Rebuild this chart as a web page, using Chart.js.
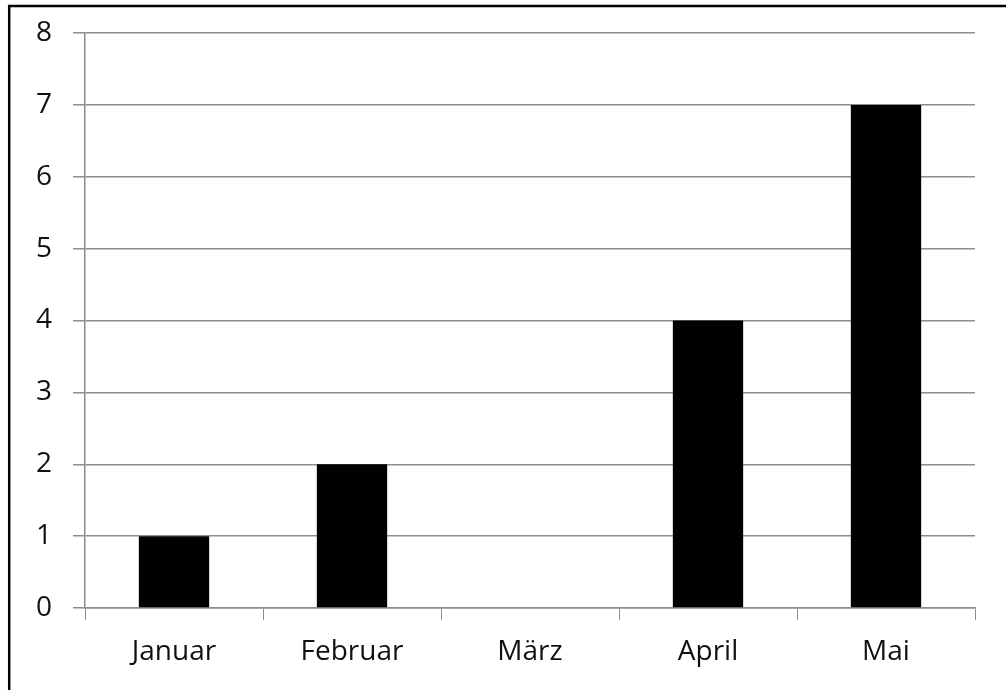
<!DOCTYPE html>
<html>
<head>
<meta charset="utf-8">
<script src="https://cdn.jsdelivr.net/npm/chart.js@4/dist/chart.umd.min.js"></script>
<style>
  body { margin: 0; background: #fff; }
  #wrap { width: 1006px; height: 690px; }
</style>
</head>
<body>
<div id="wrap"><canvas id="myChart" width="1006" height="690"></canvas></div>
<script>
// data
const months = ['Januar', 'Februar', 'März', 'April', 'Mai'];
const counts = [1, 2, 0, 4, 7];
const yTicks = [0, 1, 2, 3, 4, 5, 6, 7, 8];

// frame round the picture (left and top edge only, rest is cut off)
const framePlugin = {
    id: 'frame',
    afterDraw(chart) {
        const ctx = chart.ctx;
        ctx.save();
        ctx.strokeStyle = '#000';
        ctx.lineWidth = 2.5;
        ctx.beginPath();
        ctx.moveTo(9.2, 700);
        ctx.lineTo(9.2, 6);
        ctx.lineTo(1010, 6);
        ctx.stroke();
        ctx.restore();
    }
};

const gridGray = '#8c8c8c';

const data = {
    labels: months,
    datasets: [{
        data: counts,
        backgroundColor: '#000',
        borderWidth: 0,
        barPercentage: 0.79,
        categoryPercentage: 0.5
    }]
};

const config = {
    type: 'bar',
    data: data,
    plugins: [framePlugin],
    options: {
        responsive: false,
        animation: false,
        layout: { padding: { top: 33, right: 31, left: 0, bottom: 0 } },
        plugins: { legend: { display: false }, tooltip: { enabled: false } },
        scales: {
            x: {
                offset: true,
                grid: {
                    offset: true,
                    drawOnChartArea: false,
                    color: gridGray,
                    tickLength: 12
                },
                border: { display: true, color: gridGray, width: 1.5 },
                ticks: {
                    color: '#111',
                    padding: 15,
                    font: { family: 'Open Sans', size: 28 }
                },
                afterFit(scale) { scale.height = 82; }
            },
            y: {
                min: 0,
                max: 8,
                afterBuildTicks(scale) {
                    scale.ticks = yTicks.map(v => ({ value: v }));
                },
                grid: {
                    color: gridGray,
                    lineWidth: 1.5,
                    tickLength: 12
                },
                border: { display: true, color: gridGray, width: 1.5 },
                ticks: {
                    color: '#111',
                    padding: 21,
                    font: { family: 'Open Sans', size: 28, lineHeight: 1 }
                },
                afterFit(scale) {
                    scale.width = 85;
                    scale.paddingTop = 14;
                }
            }
        }
    }
};

var myChart = new Chart(document.getElementById('myChart'), config);
</script>
</body>
</html>
